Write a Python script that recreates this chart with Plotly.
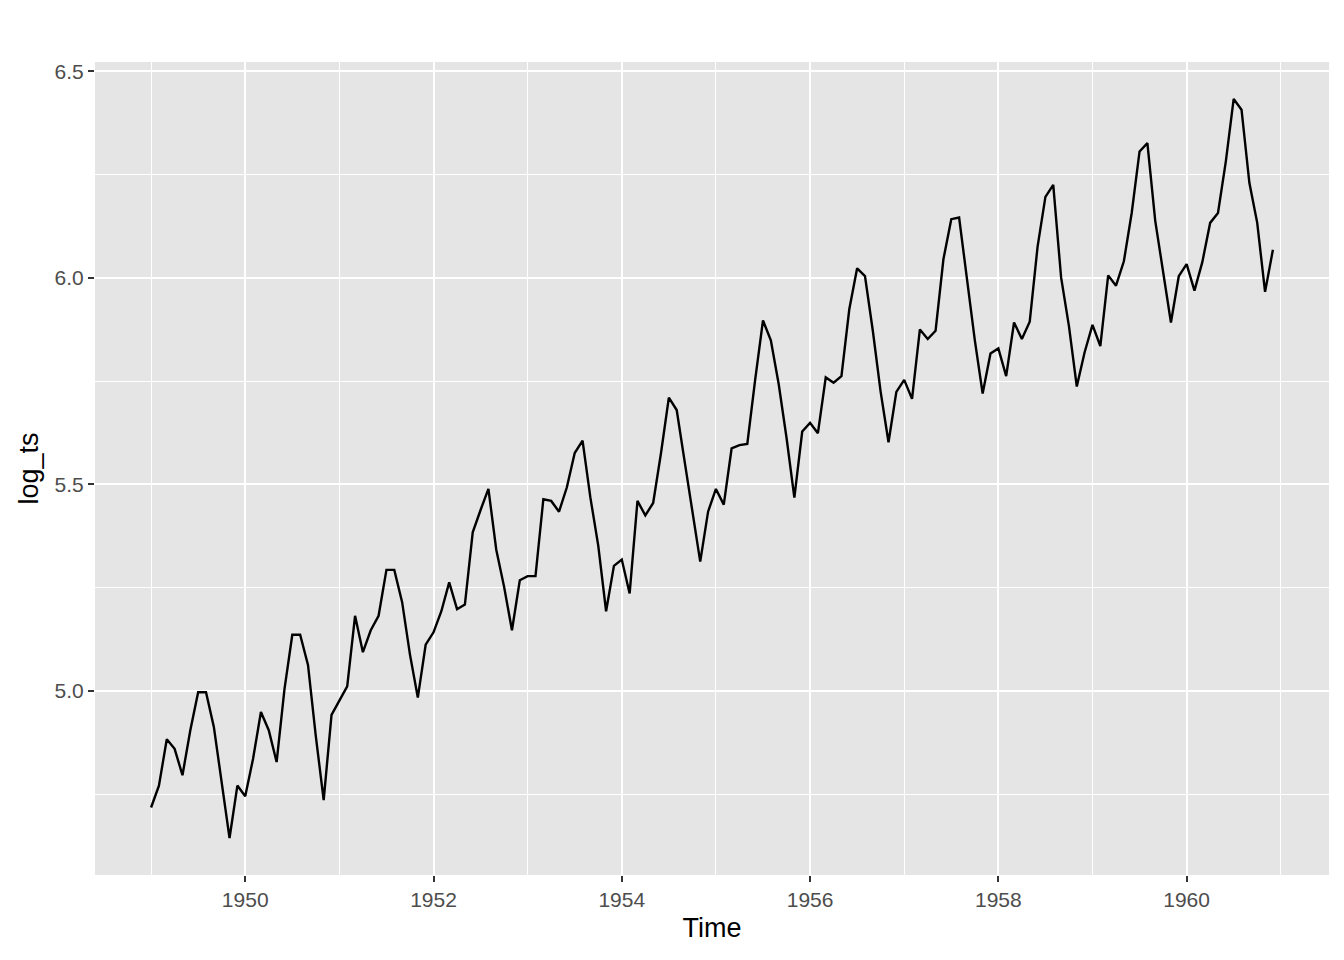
import plotly.graph_objects as go

# log of monthly airline passengers, Jan 1949 .. Dec 1960
years = list(range(1949, 1961))
log_ts = [
    4.718, 4.771, 4.883, 4.860, 4.796, 4.905, 4.997, 4.997, 4.913, 4.779, 4.644, 4.771,
    4.745, 4.836, 4.949, 4.905, 4.828, 5.004, 5.136, 5.136, 5.063, 4.890, 4.736, 4.942,
    4.977, 5.011, 5.182, 5.094, 5.147, 5.182, 5.293, 5.293, 5.215, 5.088, 4.984, 5.112,
    5.142, 5.193, 5.263, 5.198, 5.209, 5.384, 5.438, 5.489, 5.342, 5.252, 5.147, 5.268,
    5.278, 5.278, 5.464, 5.460, 5.434, 5.493, 5.576, 5.606, 5.468, 5.352, 5.193, 5.303,
    5.318, 5.236, 5.460, 5.425, 5.455, 5.576, 5.710, 5.680, 5.557, 5.434, 5.313, 5.434,
    5.489, 5.451, 5.587, 5.595, 5.598, 5.753, 5.897, 5.849, 5.743, 5.613, 5.468, 5.628,
    5.649, 5.624, 5.759, 5.746, 5.762, 5.924, 6.023, 6.004, 5.872, 5.724, 5.602, 5.724,
    5.753, 5.707, 5.875, 5.852, 5.872, 6.045, 6.142, 6.146, 6.001, 5.849, 5.720, 5.817,
    5.829, 5.762, 5.892, 5.852, 5.894, 6.075, 6.196, 6.225, 6.001, 5.883, 5.737, 5.820,
    5.886, 5.835, 6.006, 5.981, 6.040, 6.157, 6.306, 6.326, 6.138, 6.009, 5.892, 6.004,
    6.033, 5.969, 6.038, 6.133, 6.157, 6.282, 6.433, 6.407, 6.230, 6.133, 5.966, 6.068,
]
x_ticks = [1950, 1952, 1954, 1956, 1958, 1960]
y_ticks = [5.0, 5.5, 6.0, 6.5]

time = [y + m / 12 for y in years for m in range(12)]

fig = go.Figure()
fig.add_trace(
    go.Scatter(
        x=time,
        y=log_ts,
        mode="lines",
        line=dict(color="black", width=2.4),
        showlegend=False,
    )
)

# ggplot default 5% expansion
xr = (time[0], time[-1])
yr = (min(log_ts), max(log_ts))
xpad = (xr[1] - xr[0]) * 0.05
ypad = (yr[1] - yr[0]) * 0.05

FONT = "Liberation Sans, Arial, sans-serif"
axis_common = dict(
    showline=False,
    zeroline=False,
    gridcolor="white",
    gridwidth=2,
    ticks="outside",
    ticklen=6,
    tickwidth=2,
    tickcolor="#333333",
    tickfont=dict(family=FONT, size=21, color="#4D4D4D"),
    title_font=dict(family=FONT, size=27, color="black"),
)

fig.update_xaxes(
    range=[xr[0] - xpad, xr[1] + xpad],
    tickvals=x_ticks,
    ticktext=[str(v) for v in x_ticks],
    minor=dict(tickvals=[1949, 1951, 1953, 1955, 1957, 1959, 1961], gridcolor="white", gridwidth=1, ticks=""),
    title_text="Time",
    title_standoff=7,
    **axis_common,
)
fig.update_yaxes(
    range=[yr[0] - ypad, yr[1] + ypad],
    tickvals=y_ticks,
    ticktext=[f"{v:.1f}" for v in y_ticks],
    minor=dict(tickvals=[4.75, 5.25, 5.75, 6.25], gridcolor="white", gridwidth=1, ticks=""),
    title_text="log_ts",
    title_standoff=8,
    **axis_common,
)

# page body has an 8px margin, so pull the panel back by that much
fig.update_layout(
    width=1344,
    height=960,
    plot_bgcolor="#E5E5E5",
    paper_bgcolor="white",
    margin=dict(l=87, r=23, t=54, b=93),
)

fig.write_html("out.html")
